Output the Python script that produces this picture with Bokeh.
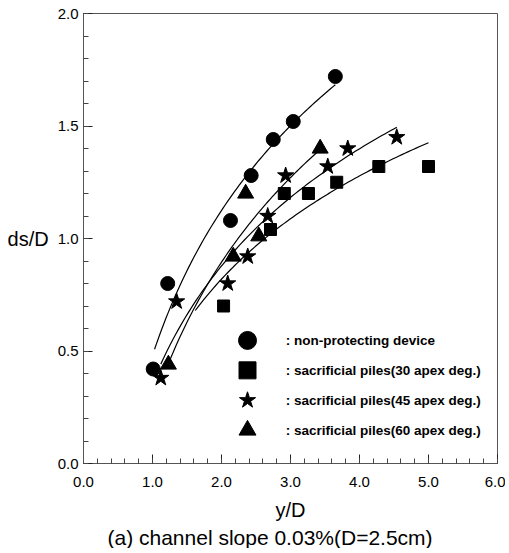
import numpy as np
from bokeh.plotting import figure
from bokeh.models import (FixedTicker, PrintfTickFormatter, Label, Range1d, Title)
from bokeh.embed import file_html
from bokeh.resources import INLINE

# ---------------- data ----------------
series_labels = [": non-protecting device",
                 ": sacrificial piles(30 apex deg.)",
                 ": sacrificial piles(45 apex deg.)",
                 ": sacrificial piles(60 apex deg.)"]

x_np = [1.01, 1.22, 2.13, 2.43, 2.75, 3.04, 3.65]
y_np = [0.42, 0.80, 1.08, 1.28, 1.44, 1.52, 1.72]

x_30 = [2.03, 2.71, 2.91, 3.26, 3.67, 4.28, 5.00]
y_30 = [0.70, 1.04, 1.20, 1.20, 1.25, 1.32, 1.32]

x_45 = [1.12, 1.35, 2.09, 2.38, 2.67, 2.93, 3.54, 3.83, 4.54]
y_45 = [0.38, 0.72, 0.80, 0.92, 1.10, 1.28, 1.32, 1.40, 1.45]

x_60 = [1.23, 2.17, 2.35, 2.54, 3.43]
y_60 = [0.44, 0.92, 1.20, 1.01, 1.40]

# x extent of each logarithmic trend curve, as drawn in the picture
fit_from = [1.03, 1.62, 1.12, 1.23]
fit_to = [3.65, 5.00, 4.54, 3.43]

x_ticks = [0, 1, 2, 3, 4, 5, 6]
y_ticks = [0.0, 0.5, 1.0, 1.5, 2.0]

x_title = "y/D"
y_title = "ds/D"
caption = "(a) channel slope 0.03%(D=2.5cm)"

# ---------------- styles / layout ----------------
FONT = "Liberation Sans"
markers = ["circle", "square", "star", "triangle"]
sizes = [14, 12, 17, 16]
legend_sizes = [18, 17, 17, 17]
LEG_X, LEG_TEXT_X = 2.377, 2.93          # legend column positions (data units)
LEG_Y0, LEG_DY = 0.547, 0.133            # first legend row and row step

p = figure(frame_width=414, frame_height=450,
           x_range=Range1d(0, 6), y_range=Range1d(0, 2),
           output_backend="svg", toolbar_location=None,
           min_border_left=83, min_border_right=8,
           min_border_top=13, min_border_bottom=70)
p.grid.visible = False
p.outline_line_color = "#555555"
p.outline_line_width = 1
p.background_fill_color = "white"
p.border_fill_color = "white"

p.xaxis.ticker = FixedTicker(ticks=x_ticks,
                             minor_ticks=[round(i * 0.2, 2) for i in range(31)])
p.yaxis.ticker = FixedTicker(ticks=y_ticks,
                             minor_ticks=[round(i * 0.1, 2) for i in range(21)])
for ax in (p.xaxis, p.yaxis):
    ax.formatter = PrintfTickFormatter(format="%.1f")
    ax.axis_line_color = "#555555"
    ax.major_tick_line_color = "#222222"
    ax.minor_tick_line_color = "#444444"
    ax.major_tick_in = 9
    ax.major_tick_out = 0
    ax.minor_tick_in = 5
    ax.minor_tick_out = 0
    ax.major_label_text_font = FONT
    ax.major_label_text_font_size = "15px"
    ax.major_label_text_color = "black"
    ax.axis_label_text_font = FONT
    ax.axis_label_text_font_style = "normal"
    ax.axis_label_text_font_size = "20px"
    ax.axis_label_text_color = "black"
p.xaxis.major_label_standoff = 13
p.yaxis.major_label_standoff = 5

p.xaxis.axis_label = x_title
p.xaxis.axis_label_standoff = 9

p.yaxis.axis_label = y_title
p.yaxis.axis_label_standoff = 6
try:
    p.yaxis.axis_label_orientation = "horizontal"
except Exception:
    pass

xs = [x_np, x_30, x_45, x_60]
ys = [y_np, y_30, y_45, y_60]

for i in range(4):
    x = np.array(xs[i])
    y = np.array(ys[i])
    b, a = np.polyfit(np.log(x), y, 1)
    xc = np.linspace(fit_from[i], fit_to[i], 80)
    p.line(xc, a + b * np.log(xc), line_color="black", line_width=1.2)
    p.scatter(x, y, marker=markers[i], size=sizes[i],
              fill_color="black", line_color="black")
    # legend entry
    ly = LEG_Y0 - i * LEG_DY
    p.scatter([LEG_X], [ly], marker=markers[i], size=legend_sizes[i],
              fill_color="black", line_color="black")
    p.add_layout(Label(x=LEG_TEXT_X, y=ly, text=series_labels[i],
                       text_align="left", text_baseline="middle",
                       text_font=FONT, text_font_style="bold",
                       text_font_size="13.5px", text_color="black"))

cap = Title(text=caption, align="left", offset=24, standoff=0,
            text_font=FONT, text_font_style="normal",
            text_font_size="21px", text_color="black")
p.add_layout(cap, "below")

open("out.html", "w").write(file_html(p, INLINE))
